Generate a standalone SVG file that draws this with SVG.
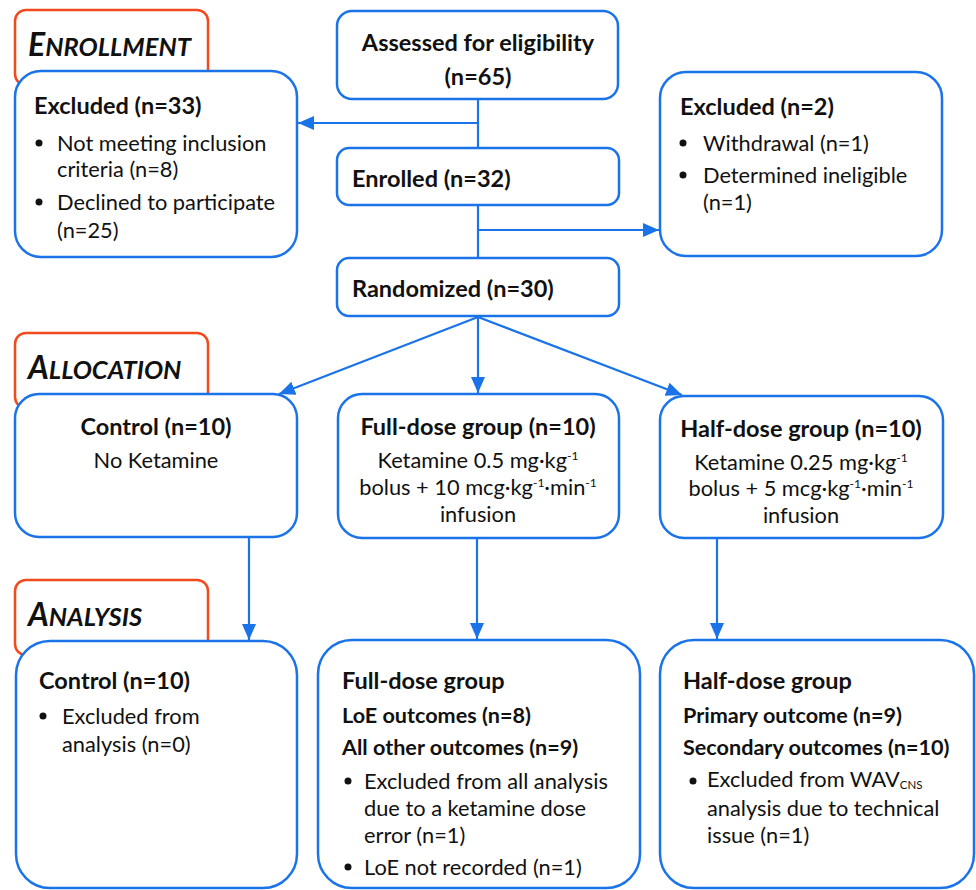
<svg xmlns="http://www.w3.org/2000/svg" width="976" height="890" viewBox="0 0 976 890">
<defs>
<style>
.bg{fill:#ffffff}
.stage{fill:#ffffff;stroke:#f24a1c;stroke-width:2.5}
.box{fill:#ffffff;stroke:#1a73e8;stroke-width:2.5}
.ln{fill:none;stroke:#1a73e8;stroke-width:2.2}
text{font-family:Lato,"Open Sans","Noto Sans",sans-serif;fill:#111111;font-size:21.8px}
.b{font-weight:bold;font-size:23.5px}
.b2{font-weight:bold;font-size:21.6px}
.st{font-weight:bold;font-style:italic;font-size:32px}
.sc{font-size:25.5px}
.c{text-anchor:middle}
.sup{font-size:12px}
.sub{font-size:11.5px}
</style>
<marker id="ah" markerUnits="userSpaceOnUse" markerWidth="16" markerHeight="14" viewBox="0 0 16 14" refX="16" refY="7" orient="auto">
<path d="M0,0 L16,7 L0,14 Z" fill="#1a73e8"/>
</marker>
</defs>
<rect class="bg" x="0" y="0" width="976" height="890"/>

<g id="stage-enrollment">
<rect class="stage" x="15" y="10" width="193" height="75" rx="11"/>
<text class="st" x="28" y="56">E<tspan class="sc">NROLLMENT</tspan></text>
</g>
<g id="stage-allocation">
<rect class="stage" x="15" y="333" width="193" height="75" rx="11"/>
<text class="st" x="28" y="379">A<tspan class="sc">LLOCATION</tspan></text>
</g>
<g id="stage-analysis">
<rect class="stage" x="15" y="580" width="193" height="75" rx="11"/>
<text class="st" x="28" y="626">A<tspan class="sc">NALYSIS</tspan></text>
</g>

<g id="connectors">
<line class="ln" x1="478" y1="99" x2="478" y2="148"/>
<line class="ln" x1="478" y1="123" x2="298" y2="123" marker-end="url(#ah)"/>
<line class="ln" x1="478" y1="205" x2="478" y2="258"/>
<line class="ln" x1="478" y1="230" x2="659" y2="230" marker-end="url(#ah)"/>
<line class="ln" x1="478" y1="317" x2="279" y2="394" marker-end="url(#ah)"/>
<line class="ln" x1="478" y1="317" x2="478" y2="393" marker-end="url(#ah)"/>
<line class="ln" x1="478" y1="317" x2="682" y2="395" marker-end="url(#ah)"/>
<line class="ln" x1="249" y1="537" x2="249" y2="640" marker-end="url(#ah)"/>
<line class="ln" x1="477" y1="538" x2="477" y2="639" marker-end="url(#ah)"/>
<line class="ln" x1="717" y1="538" x2="717" y2="639" marker-end="url(#ah)"/>
</g>

<g id="assessed">
<rect class="box" x="337" y="11" width="281" height="88" rx="15"/>
<text class="b c" x="478" y="51">Assessed for eligibility</text>
<text class="b c" x="478" y="85">(n=65)</text>
</g>

<g id="excluded-33">
<rect class="box" x="15" y="71" width="282" height="186" rx="26"/>
<text class="b" x="34" y="114">Excluded (n=33)</text>
<circle cx="39" cy="143" r="3.5" fill="#111"/>
<text x="57" y="151">Not meeting inclusion</text>
<text x="57" y="177">criteria (n=8)</text>
<circle cx="39" cy="202" r="3.5" fill="#111"/>
<text x="57" y="210">Declined to participate</text>
<text x="57" y="238">(n=25)</text>
</g>

<g id="enrolled">
<rect class="box" x="337" y="148" width="282" height="57" rx="12"/>
<text class="b" x="352" y="187">Enrolled (n=32)</text>
</g>

<g id="excluded-2">
<rect class="box" x="660" y="72" width="282" height="184" rx="26"/>
<text class="b" x="680" y="115">Excluded (n=2)</text>
<circle cx="683" cy="143" r="3.5" fill="#111"/>
<text x="703" y="151">Withdrawal (n=1)</text>
<circle cx="683" cy="175" r="3.5" fill="#111"/>
<text x="703" y="183">Determined ineligible</text>
<text x="703" y="210">(n=1)</text>
</g>

<g id="randomized">
<rect class="box" x="337" y="258" width="282" height="58" rx="12"/>
<text class="b" x="352" y="297">Randomized (n=30)</text>
</g>

<g id="alloc-control">
<rect class="box" x="15" y="394" width="282" height="143" rx="24"/>
<text class="b c" x="156" y="435">Control (n=10)</text>
<text class="c" x="156" y="468">No Ketamine</text>
</g>

<g id="alloc-full">
<rect class="box" x="338" y="394" width="281" height="144" rx="24"/>
<text class="b c" x="478" y="435">Full-dose group (n=10)</text>
<text class="c" x="478" y="468">Ketamine 0.5 mg·kg<tspan class="sup" dy="-8">-1</tspan></text>
<text class="c" x="478" y="495">bolus + 10 mcg·kg<tspan class="sup" dy="-8">-1</tspan><tspan dy="8">·min</tspan><tspan class="sup" dy="-8">-1</tspan></text>
<text class="c" x="478" y="522">infusion</text>
</g>

<g id="alloc-half">
<rect class="box" x="660" y="396" width="283" height="142" rx="24"/>
<text class="b c" x="801" y="437">Half-dose group (n=10)</text>
<text class="c" x="801" y="470">Ketamine 0.25 mg·kg<tspan class="sup" dy="-8">-1</tspan></text>
<text class="c" x="801" y="496">bolus + 5 mcg·kg<tspan class="sup" dy="-8">-1</tspan><tspan dy="8">·min</tspan><tspan class="sup" dy="-8">-1</tspan></text>
<text class="c" x="801" y="523">infusion</text>
</g>

<g id="analysis-control">
<rect class="box" x="16" y="641" width="281" height="247" rx="34"/>
<text class="b" x="39" y="689">Control (n=10)</text>
<circle cx="43" cy="716" r="3.5" fill="#111"/>
<text x="62" y="724">Excluded from</text>
<text x="62" y="752">analysis (n=0)</text>
</g>

<g id="analysis-full">
<rect class="box" x="318" y="640" width="322" height="248" rx="34"/>
<text class="b" x="342" y="689">Full-dose group</text>
<text class="b2" x="342" y="723">LoE outcomes (n=8)</text>
<text class="b2" x="342" y="755">All other outcomes (n=9)</text>
<circle cx="348" cy="781" r="3.5" fill="#111"/>
<text x="364" y="789">Excluded from all analysis</text>
<text x="364" y="816">due to a ketamine dose</text>
<text x="364" y="843">error (n=1)</text>
<circle cx="348" cy="867" r="3.5" fill="#111"/>
<text x="364" y="875">LoE not recorded (n=1)</text>
</g>

<g id="analysis-half">
<rect class="box" x="660" y="640" width="314" height="248" rx="34"/>
<text class="b" x="683" y="689">Half-dose group</text>
<text class="b2" x="683" y="723">Primary outcome (n=9)</text>
<text class="b2" x="683" y="755">Secondary outcomes (n=10)</text>
<circle cx="693" cy="781" r="3.5" fill="#111"/>
<text x="707" y="787">Excluded from WAV<tspan class="sub" dy="2">CNS</tspan></text>
<text x="707" y="816">analysis due to technical</text>
<text x="707" y="843">issue (n=1)</text>
</g>
</svg>
